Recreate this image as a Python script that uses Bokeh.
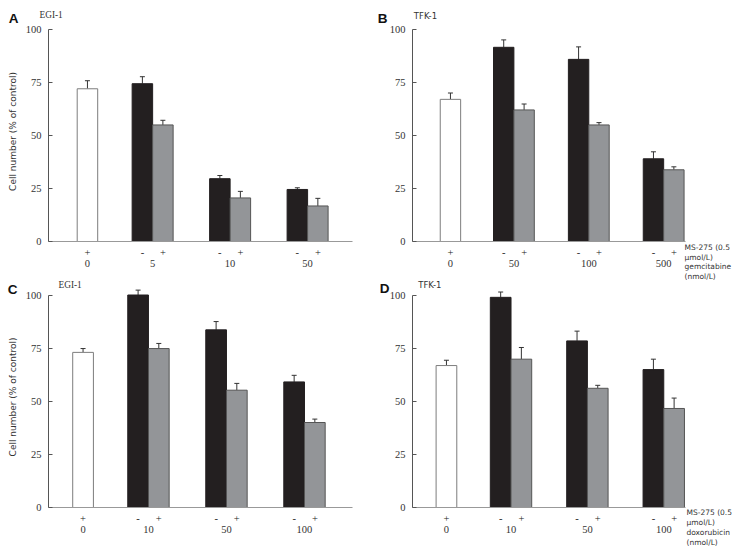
from bokeh.plotting import figure
from bokeh.models import Range1d, FixedTicker, LinearAxis, Whisker, TeeHead, ColumnDataSource
from bokeh.layouts import gridplot
from bokeh.core.properties import value
from bokeh.embed import file_html
from bokeh.resources import INLINE

# ---------------- data ----------------
panel_letters = ["A", "B", "C", "D"]
cell_lines = ["EGI-1", "TFK-1", "EGI-1", "TFK-1"]
control_dose = "0"
ms_signs = ["-", "+"]          # MS-275 absent / present
y_ticks = [0, 25, 50, 75, 100]
y_label = "Cell number (% of control)"
side_label_B = "MS-275 (0.5\nμmol/L)\ngemcitabine\n(nmol/L)"
side_label_D = "MS-275 (0.5\nμmol/L)\ndoxorubicin\n(nmol/L)"

doses_A = ["5", "10", "50"]
ms275_A, ms275_err_A = 72.2, 3.8
drug_A = [74.6, 29.7, 24.6]
drug_err_A = [3.3, 1.5, 0.8]
combo_A = [55.1, 20.6, 16.8]
combo_err_A = [2.2, 3.1, 3.6]

doses_B = ["50", "100", "500"]
ms275_B, ms275_err_B = 67.2, 3.0
drug_B = [91.8, 86.1, 39.1]
drug_err_B = [3.5, 5.9, 3.3]
combo_B = [62.2, 55.1, 33.9]
combo_err_B = [2.8, 1.1, 1.4]

doses_C = ["10", "50", "100"]
ms275_C, ms275_err_C = 73.0, 1.8
drug_C = [100.0, 83.6, 59.1]
drug_err_C = [2.3, 3.9, 3.1]
combo_C = [74.8, 55.2, 40.0]
combo_err_C = [2.4, 3.2, 1.6]

doses_D = ["10", "50", "100"]
ms275_D, ms275_err_D = 66.8, 2.5
drug_D = [98.9, 78.4, 64.9]
drug_err_D = [2.5, 4.6, 4.9]
combo_D = [69.8, 56.1, 46.6]
combo_err_D = [5.5, 1.4, 4.9]

# ---------------- layout / style ----------------
SERIF = "Liberation Serif"
SANS = "DejaVu Sans"
BLACK = "#231f20"
GRAY = "#939598"
TXT = "#333333"

# offsets are in screen pixels: letter / cell line relative to (frame left, y=100),
# side label relative to (frame right, y=0); y offsets positive = downwards
layouts = {
    "A": dict(w=372, h=280, l=48, r=20, t=21, b=38, x0=-1.9, x1=12.93, gap=2.68, step=3.78,
              let=(-39.7, -11.7), cell=(-9, -15), cell_font=SERIF, cell_size="9.3px"),
    "B": dict(w=371, h=280, l=40, r=54, t=20, b=39, x0=-1.86, x1=11.52, gap=2.61, step=3.67,
              let=(-34.7, -11), cell=(1.3, -14), cell_font=SANS, cell_size="8.5px",
              side=(-1, 1.5, 1.06)),
    "C": dict(w=372, h=274, l=48, r=20, t=5, b=47, x0=-1.67, x1=13.02, gap=2.66, step=3.77,
              let=(-40.7, -5.7), cell=(10, -10), cell_font=SERIF, cell_size="9.3px"),
    "D": dict(w=371, h=274, l=36, r=58, t=6, b=47, x0=-1.64, x1=11.55, gap=2.62, step=3.69,
              let=(-32.7, -6.7), cell=(5.7, -10.5), cell_font=SANS, cell_size="8.5px",
              side=(1, 0, 1.14)),
}


def make_panel(letter, cell, doses, ms, ms_err, drug, drug_err, combo, combo_err,
               show_ylabel, side_text):
    lay = layouts[letter]
    xs_white = [0.0]
    xs_black = [lay["gap"] + i * lay["step"] for i in range(len(doses))]
    xs_gray = [x + 1.0 for x in xs_black]

    p = figure(width=lay["w"], height=lay["h"], output_backend="svg", toolbar_location=None,
               x_range=Range1d(lay["x0"], lay["x1"]), y_range=Range1d(0, 104),
               min_border_left=lay["l"], min_border_right=lay["r"],
               min_border_top=lay["t"], min_border_bottom=lay["b"])
    p.outline_line_color = None
    p.grid.visible = False
    p.background_fill_color = "white"

    p.vbar(x=xs_white, top=[ms], width=1, bottom=0, fill_color="white", line_color="#7d7d7d")
    p.vbar(x=xs_black, top=drug, width=1, bottom=0, fill_color=BLACK, line_color=BLACK)
    p.vbar(x=xs_gray, top=combo, width=1, bottom=0, fill_color=GRAY, line_color="#555555")

    tops = [ms] + list(drug) + list(combo)
    errs = [ms_err] + list(drug_err) + list(combo_err)
    src = ColumnDataSource(dict(base=xs_white + xs_black + xs_gray, lower=tops,
                                upper=[t + e for t, e in zip(tops, errs)]))
    p.add_layout(Whisker(base="base", lower="lower", upper="upper", source=src,
                         lower_head=None,
                         upper_head=TeeHead(size=5, line_color=TXT, line_width=1),
                         line_color=TXT, line_width=1))

    # y axis
    ya = p.yaxis[0]
    ya.ticker = FixedTicker(ticks=y_ticks)
    ya.bounds = (0, 100)
    ya.major_tick_in = 4
    ya.major_tick_out = 0
    ya.minor_tick_line_color = None
    ya.axis_line_color = "#555555"
    ya.major_tick_line_color = "#555555"
    ya.major_label_text_font = SERIF
    ya.major_label_text_font_size = "10.5px"
    ya.major_label_text_color = TXT
    ya.major_label_standoff = 7
    if show_ylabel:
        ya.axis_label = y_label
        ya.axis_label_text_font = SANS
        ya.axis_label_text_font_size = "9px"
        ya.axis_label_text_font_style = "normal"
        ya.axis_label_text_color = TXT
        ya.axis_label_standoff = 5

    # x axis: MS-275 signs under each bar
    xa = p.xaxis[0]
    xa.ticker = FixedTicker(ticks=xs_white + xs_black + xs_gray)
    ov = {xs_white[0]: ms_signs[1]}
    for xb, xg in zip(xs_black, xs_gray):
        ov[xb] = ms_signs[0]
        ov[xg] = ms_signs[1]
    xa.major_label_overrides = ov
    xa.major_tick_line_color = None
    xa.minor_tick_line_color = None
    xa.axis_line_color = "#999999"
    xa.major_label_text_font = SERIF
    xa.major_label_text_font_size = "10.5px"
    xa.major_label_text_color = "#222222"
    xa.major_label_standoff = 1

    # second x axis: drug dose under each group
    centers = [xs_white[0]] + [xb + 0.5 for xb in xs_black]
    labels = [control_dose] + list(doses)
    xa2 = LinearAxis(ticker=FixedTicker(ticks=centers),
                     major_label_overrides={c: t for c, t in zip(centers, labels)},
                     axis_line_color=None, major_tick_line_color=None,
                     minor_tick_line_color=None, major_label_standoff=-5,
                     major_label_text_font=SERIF, major_label_text_font_size="10.5px",
                     major_label_text_color=TXT)
    p.add_layout(xa2, "below")

    # panel letter and cell line (drawn at overlay level so they may sit outside the frame)
    p.text(x=[lay["x0"]], y=[100], text=[letter], x_offset=lay["let"][0], y_offset=lay["let"][1],
           text_font=value("Liberation Sans"), text_font_style="bold", text_font_size=value("13.5px"),
           text_baseline="middle", text_align="left", text_color="#111111", level="overlay")
    p.text(x=[lay["x0"]], y=[100], text=[cell], x_offset=lay["cell"][0], y_offset=lay["cell"][1],
           text_font=value(lay["cell_font"]), text_font_size=value(lay["cell_size"]),
           text_baseline="middle", text_align="left", text_color=TXT, level="overlay")
    if side_text:
        sx, sy, lh = lay["side"]
        p.text(x=[lay["x1"]], y=[0], text=[side_text], x_offset=sx, y_offset=sy,
               text_font=value(SANS), text_font_size=value("7.5px"), text_line_height=lh,
               text_baseline="top", text_align="left", text_color=TXT, level="overlay")
    return p


pA = make_panel("A", cell_lines[0], doses_A, ms275_A, ms275_err_A, drug_A, drug_err_A,
                combo_A, combo_err_A, True, None)
pB = make_panel("B", cell_lines[1], doses_B, ms275_B, ms275_err_B, drug_B, drug_err_B,
                combo_B, combo_err_B, False, side_label_B)
pC = make_panel("C", cell_lines[2], doses_C, ms275_C, ms275_err_C, drug_C, drug_err_C,
                combo_C, combo_err_C, True, None)
pD = make_panel("D", cell_lines[3], doses_D, ms275_D, ms275_err_D, drug_D, drug_err_D,
                combo_D, combo_err_D, False, side_label_D)

grid = gridplot([[pA, pB], [pC, pD]], toolbar_location=None)

open("out.html", "w").write(file_html(grid, INLINE))
